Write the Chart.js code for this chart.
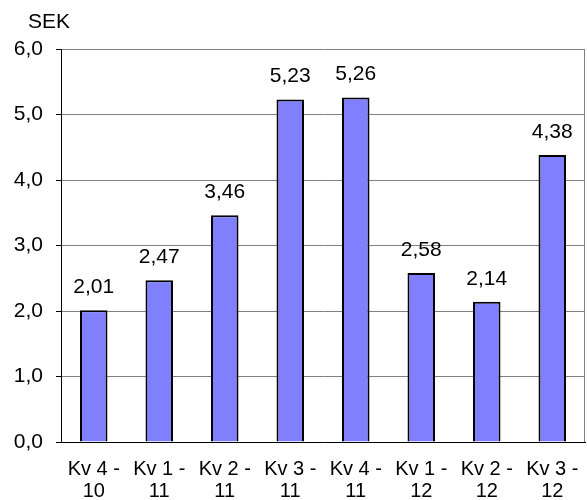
<!DOCTYPE html>
<html>
<head>
<meta charset="utf-8">
<script src="https://cdn.jsdelivr.net/npm/chart.js@4/dist/chart.umd.min.js"></script>
<style>
html,body{margin:0;padding:0;background:#fff;}
canvas{display:block;}
</style>
</head>
<body>
<canvas id="c" width="587" height="500"></canvas>
<script>
const categories = [["Kv 4 -","10"],["Kv 1 -","11"],["Kv 2 -","11"],["Kv 3 -","11"],["Kv 4 -","11"],["Kv 1 -","12"],["Kv 2 -","12"],["Kv 3 -","12"]];
const values = [2.01, 2.47, 3.46, 5.23, 5.26, 2.58, 2.14, 4.38];
const yTicks = [0, 1, 2, 3, 4, 5, 6];
const unitLabel = "SEK";

const FONT = "'Liberation Sans', Arial, sans-serif";
const fmt = (v, d) => v.toFixed(d).replace('.', ',');

const extras = {
  id: 'extras',
  afterDatasetsDraw(chart) {
    const ctx = chart.ctx;
    const a = chart.chartArea;
    ctx.save();
    ctx.strokeStyle = '#808080';
    ctx.lineWidth = 1;
    ctx.beginPath();
    ctx.moveTo(Math.round(a.right) - 0.5, a.top);
    ctx.lineTo(Math.round(a.right) - 0.5, a.bottom);
    ctx.stroke();
    ctx.fillStyle = '#000';
    ctx.font = '21px ' + FONT;
    ctx.textAlign = 'center';
    ctx.textBaseline = 'alphabetic';
    const meta = chart.getDatasetMeta(0);
    meta.data.forEach((bar, i) => {
      ctx.fillText(fmt(values[i], 2), bar.x, bar.y - 17);
    });
    ctx.textAlign = 'left';
    ctx.fillText(unitLabel, 28, 27.5);
    ctx.restore();
  }
};

new Chart(document.getElementById('c'), {
  type: 'bar',
  data: {
    labels: categories,
    datasets: [{
      data: values,
      backgroundColor: '#8080FF',
      borderColor: '#000000',
      borderWidth: 2,
      categoryPercentage: 0.42,
      barPercentage: 1.0
    }]
  },
  options: {
    responsive: false,
    animation: false,
    devicePixelRatio: 1,
    layout: { padding: { top: 49, right: 2, left: 0, bottom: 0 } },
    plugins: { legend: { display: false }, tooltip: { enabled: false }, title: { display: false } },
    scales: {
      x: {
        grid: { display: false },
        border: { display: true, color: '#000', width: 1 },
        ticks: { color: '#000', font: { family: FONT, size: 20, lineHeight: 1.1 }, maxRotation: 0, autoSkip: false, padding: 8 },
        afterFit(s) { s.height = 58; }
      },
      y: {
        min: 0, max: 6,
        afterBuildTicks(s) { s.ticks = yTicks.map(v => ({ value: v })); },
        grid: { color: '#808080', tickColor: '#000', tickLength: 5, drawTicks: true },
        border: { display: true, color: '#000', width: 1 },
        ticks: { color: '#000', font: { family: FONT, size: 21 }, padding: 13, callback: v => fmt(v, 1) },
        afterFit(s) { s.width = 61; }
      }
    }
  },
  plugins: [extras]
});
</script>
</body>
</html>
